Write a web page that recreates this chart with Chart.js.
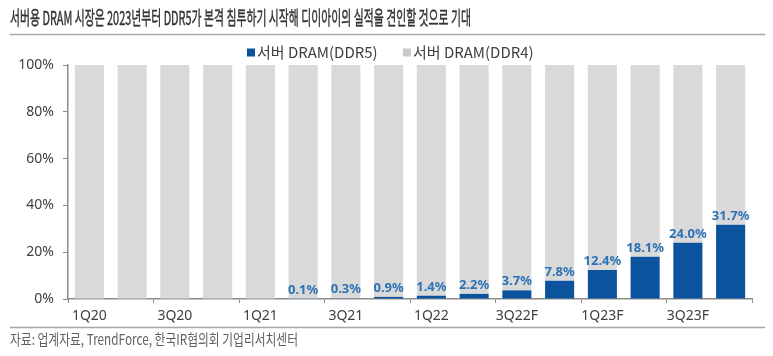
<!DOCTYPE html>
<html>
<head>
<meta charset="utf-8">
<script src="https://cdn.jsdelivr.net/npm/chart.js@4/dist/chart.umd.min.js"></script>
<style>
  html, body { margin: 0; padding: 0; background: #ffffff; }
  #wrap { width: 773px; height: 356px; }
</style>
</head>
<body>
<div id="wrap"><canvas id="c" width="773" height="356"></canvas></div>
<script>
// ---- data ----
const categories = ['1Q20','2Q20','3Q20','4Q20','1Q21','2Q21','3Q21','4Q21','1Q22','2Q22','3Q22F','4Q22F','1Q23F','2Q23F','3Q23F','4Q23F'];
const ddr5Share = [0, 0, 0, 0, 0, 0.1, 0.3, 0.9, 1.4, 2.2, 3.7, 7.8, 12.4, 18.1, 24.0, 31.7];
const ddr4Share = [100, 100, 100, 100, 100, 99.9, 99.7, 99.1, 98.6, 97.8, 96.3, 92.2, 87.6, 81.9, 76.0, 68.3];
const yTickValues = [0, 20, 40, 60, 80, 100];
const seriesNames = ['서버 DRAM(DDR5)', '서버 DRAM(DDR4)'];
const titleText = '서버용 DRAM 시장은 2023년부터 DDR5가 본격 침투하기 시작해 디이아이의 실적을 견인할 것으로 기대';
const sourceText = '자료: 업계자료, TrendForce, 한국IR협의회 기업리서치센터';

// ---- styles ----
const BLUE = '#0b549d';
const GRAY = '#d9d9d9';
const LABEL_BLUE = '#2e72b6';
const AXIS = '#8c8c8c';
const TEXT = '#404040';

const decor = {
  id: 'decor',
  afterDatasetsDraw(chart) {
    const ctx = chart.ctx;
    const meta = chart.getDatasetMeta(0);
    ctx.save();
    ctx.font = 'bold 13px "Noto Sans"';
    ctx.fillStyle = LABEL_BLUE;
    ctx.textAlign = 'center';
    ctx.textBaseline = 'alphabetic';
    meta.data.forEach((el, i) => {
      const v = ddr5Share[i];
      if (v > 0) ctx.fillText(v.toFixed(1) + '%', el.x, el.y - 5);
    });
    ctx.restore();
  },
  afterDraw(chart) {
    const ctx = chart.ctx;
    ctx.save();
    // title
    ctx.font = '19px "Noto Sans CJK KR"';
    ctx.fillStyle = '#333333';
    ctx.strokeStyle = '#333333';
    ctx.lineWidth = 0.45;
    ctx.textAlign = 'left';
    ctx.textBaseline = 'middle';
    ctx.fillText(titleText, 10, 18, 461);
    ctx.strokeText(titleText, 10, 18, 461);
    // rules
    ctx.strokeStyle = '#a6a6a6';
    ctx.lineWidth = 1.5;
    ctx.beginPath();
    ctx.moveTo(10, 34.5); ctx.lineTo(765, 34.5);
    ctx.moveTo(10, 327.5); ctx.lineTo(765, 327.5);
    ctx.stroke();
    // legend
    const items = [
      { x: 247, color: chart.data.datasets[0].backgroundColor, text: chart.data.datasets[0].label },
      { x: 403, color: '#c9c9c9', text: chart.data.datasets[1].label }
    ];
    ctx.font = '15px "Noto Sans CJK KR"';
    items.forEach(it => {
      ctx.fillStyle = it.color;
      ctx.fillRect(it.x, 48.5, 8, 8);
      ctx.fillStyle = TEXT;
      ctx.fillText(it.text, it.x + 10, 52.5, 122);
    });
    // source
    ctx.font = '15px "Noto Sans CJK KR"';
    ctx.fillStyle = '#5f5f5f';
    ctx.fillText(sourceText, 10, 339.5, 288);
    ctx.restore();
  }
};

new Chart(document.getElementById('c'), {
  type: 'bar',
  data: {
    labels: categories,
    datasets: [
      { label: seriesNames[0], data: ddr5Share, backgroundColor: BLUE, barPercentage: 0.68, categoryPercentage: 1.0 },
      { label: seriesNames[1], data: ddr4Share, backgroundColor: GRAY, barPercentage: 0.68, categoryPercentage: 1.0 }
    ]
  },
  options: {
    responsive: false,
    animation: false,
    devicePixelRatio: 1,
    layout: { padding: { left: 8, right: 21, top: 65, bottom: 27 } },
    plugins: {
      legend: { display: false },
      tooltip: { enabled: false },
      title: { display: false }
    },
    scales: {
      x: {
        stacked: true,
        offset: true,
        grid: {
          offset: true,
          drawOnChartArea: false,
          drawTicks: true,
          tickLength: 4,
          lineWidth: 1,
          color: c => (((c.index ?? 0) % 2 === 0) ? AXIS : 'rgba(0,0,0,0)')
        },
        border: { display: true, color: AXIS, width: 1.5 },
        ticks: {
          autoSkip: false,
          maxRotation: 0,
          padding: 5,
          color: TEXT,
          font: { family: 'Noto Sans', size: 14 },
          callback: (v, i) => (i % 2 === 0 ? categories[i] : '')
        },
        afterFit: s => { s.height = 30; }
      },
      y: {
        stacked: true,
        min: 0,
        max: 100,
        afterBuildTicks: s => { s.ticks = yTickValues.map(v => ({ value: v })); },
        grid: { drawOnChartArea: false, drawTicks: true, tickLength: 5, color: AXIS },
        border: { display: true, color: AXIS, width: 1.5 },
        ticks: {
          padding: 9,
          color: TEXT,
          font: { family: 'Noto Sans', size: 14 },
          callback: v => v + '%'
        },
        afterFit: s => { s.width = 60; }
      }
    }
  },
  plugins: [decor]
});
</script>
</body>
</html>
